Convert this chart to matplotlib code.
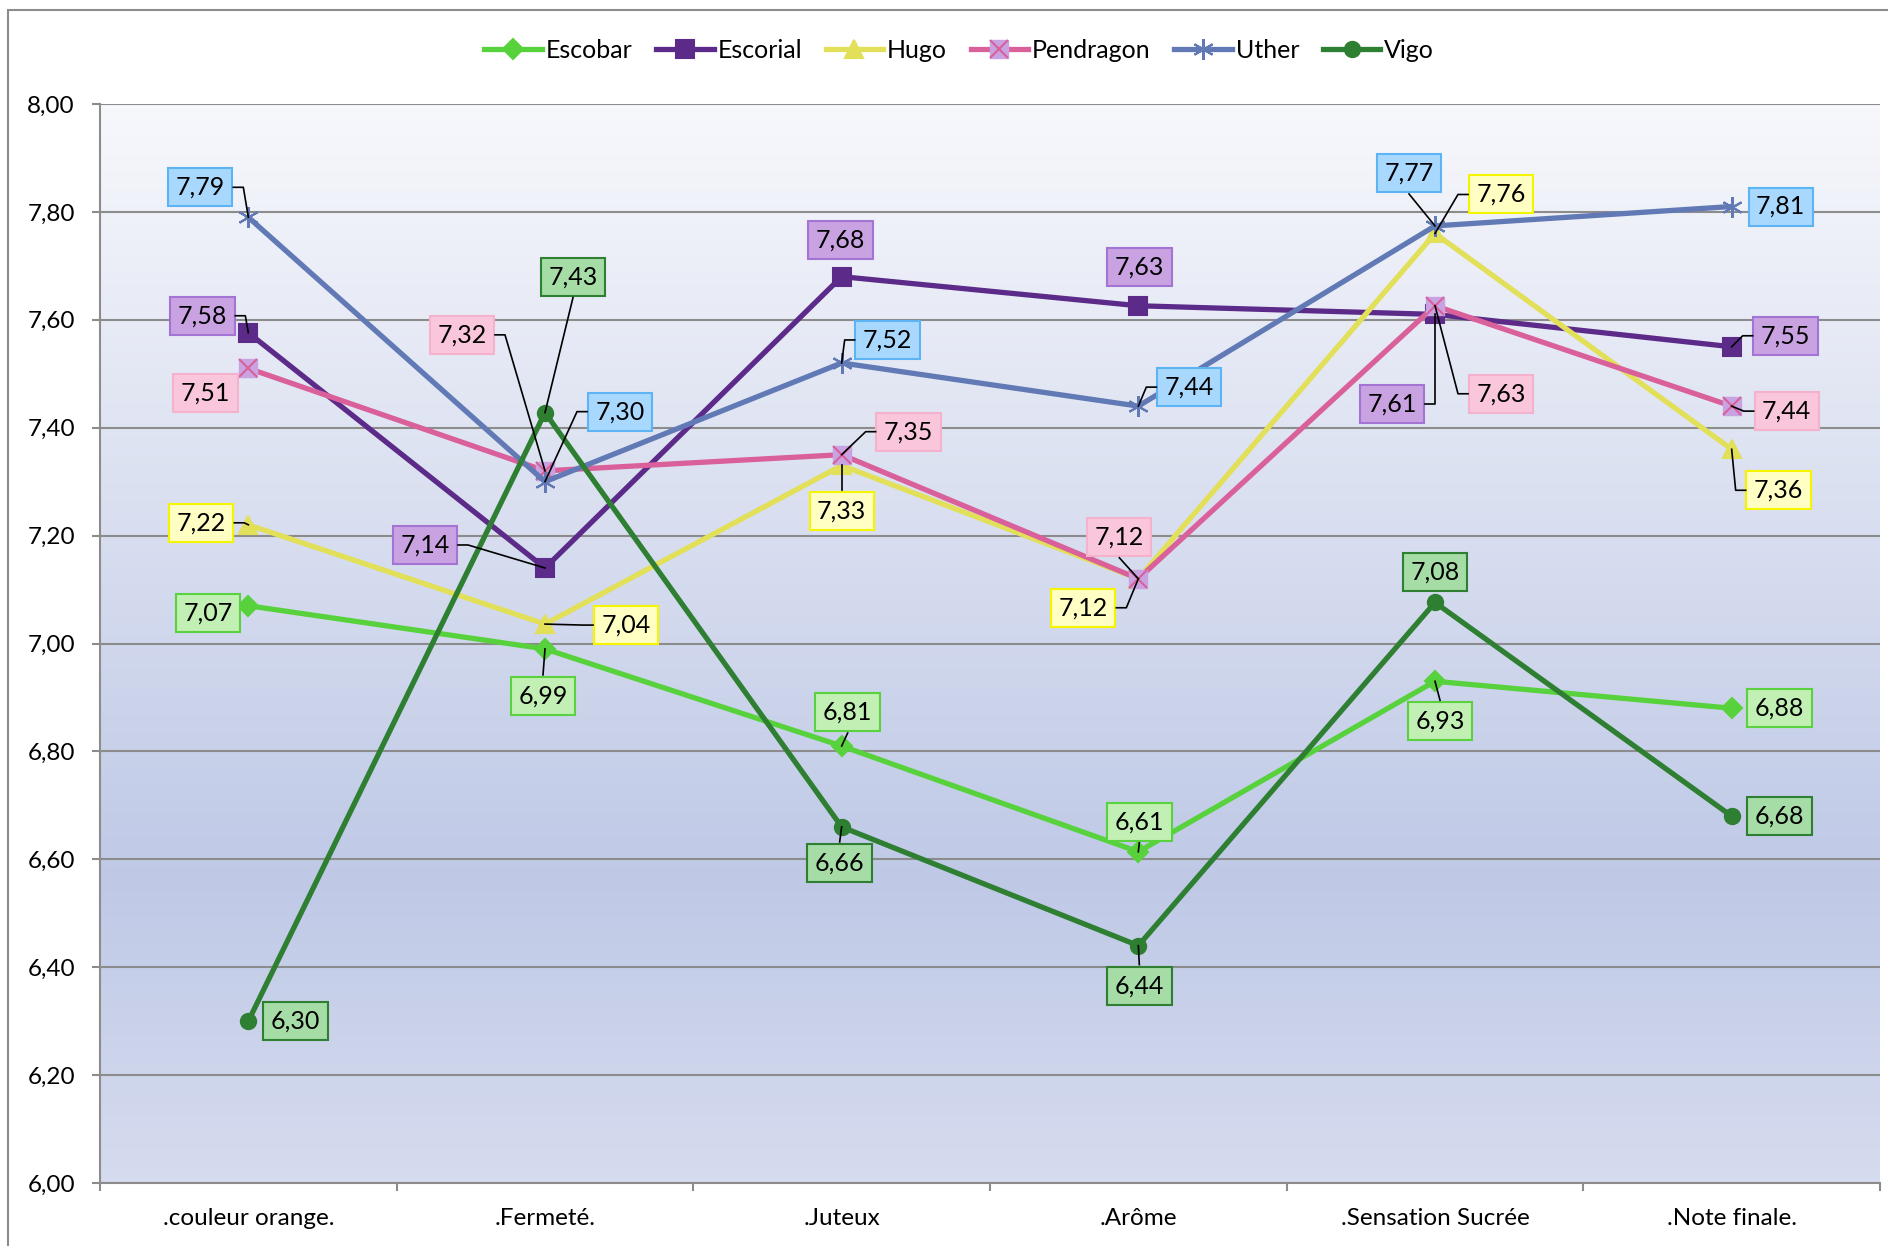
import numpy as np
import matplotlib
matplotlib.use('Agg')
import matplotlib.pyplot as plt
from matplotlib.colors import LinearSegmentedColormap
from matplotlib.lines import Line2D
from matplotlib.patches import Rectangle
from matplotlib.ticker import FixedLocator, FuncFormatter

plt.rcParams['font.family'] = ['Lato', 'DejaVu Sans']

# data
categories = ['.couleur orange.', '.Fermeté.', '.Juteux', '.Arôme',
              '.Sensation Sucrée', '.Note finale.']
series_names = ['Escobar', 'Escorial', 'Hugo', 'Pendragon', 'Uther', 'Vigo']
escobar = [7.07, 6.99, 6.81, 6.614, 6.93, 6.88]
escorial = [7.576, 7.14, 7.68, 7.626, 7.61, 7.55]
hugo = [7.22, 7.036, 7.33, 7.12, 7.76, 7.36]
pendragon = [7.51, 7.32, 7.35, 7.12, 7.626, 7.44]
uther = [7.79, 7.30, 7.52, 7.44, 7.774, 7.81]
vigo = [6.30, 7.428, 6.66, 6.44, 7.076, 6.68]
values = [escobar, escorial, hugo, pendragon, uther, vigo]

# styles
line_colors = ['#58d23c', '#5c2a88', '#e2df58', '#d9609a', '#6179b5', '#2f7f33']
box_faces = ['#c2f0b4', '#c9a2e2', '#ffffc4', '#f9c6dc', '#a9d8fe', '#a6dca6']
box_edges = ['#5ad240', '#a374d4', '#f5f500', '#f5b2cd', '#5cb4f5', '#2f7f33']
markers = ['D', 's', '^', 's', (6, 2, 0), 'o']
marker_sizes = [10, 13, 13, 13, 15, 11]

# label offsets in pixels (dx, dy, draw leader)
label_offsets = [
    [(-40, -7, 0), (-2, -47, 1), (6, 34, 1), (1, 30, 1), (5, -40, 1), (48, 0, 0)],
    [(-46, 17, 1), (-120, 23, 1), (-1, 37, 0), (1, 39, 0), (-43, -90, 1), (54, 11, 1)],
    [(-47, 2, 1), (81, -1, 1), (0, -46, 1), (-55, -29, 1), (66, 39, 1), (47, -41, 1)],
    [(-43, -25, 0), (-83, 136, 1), (67, 23, 1), (-19, 42, 1), (66, -88, 1), (55, -5, 1)],
    [(-48, 30, 1), (75, 70, 1), (46, 23, 1), (51, 19, 1), (-26, 53, 1), (49, 0, 0)],
    [(47, 0, 0), (28, 136, 1), (-2, -36, 1), (1, -40, 1), (0, 30, 0), (48, 0, 0)],
]

W, H = 1888, 1246
fig = plt.figure(figsize=(W / 100, H / 100), dpi=100)
fig.patches.append(Rectangle((8 / W, -0.1), 1.2, 1.1 - 10 / H,
                             transform=fig.transFigure, fill=False,
                             edgecolor='#8c8c8c', linewidth=1.5))

ax = fig.add_axes([100 / W, 1 - 1183 / H, 1780 / W, (1183 - 104) / H])
x = np.arange(len(categories))
ax.set_xlim(-0.5, len(categories) - 0.5)
ax.set_ylim(6, 8)

# plot area gradient
cmap = LinearSegmentedColormap.from_list(
    'bg', [(0, '#f7f8fc'), (0.72, '#bfc9e6'), (1, '#d6dcef')])
grad = np.linspace(0, 1, 256).reshape(-1, 1)
ax.imshow(grad, cmap=cmap, extent=(-0.5, len(categories) - 0.5, 6, 8),
          aspect='auto', origin='upper', zorder=0)

ax.set_yticks(np.arange(6, 8.01, 0.2))
ax.yaxis.set_major_formatter(FuncFormatter(lambda v, p: f'{v:.2f}'.replace('.', ',')))
ax.grid(axis='y', color='#8c8c8c', linewidth=1.5, zorder=1)
ax.set_axisbelow(True)
ax.set_xticks(x)
ax.set_xticklabels(categories)
ax.xaxis.set_minor_locator(FixedLocator(np.arange(-0.5, len(categories), 1.0)))
ax.tick_params(axis='x', which='major', length=0, pad=18, labelsize=17.5)
ax.tick_params(axis='x', which='minor', length=6, width=1.5, color='#8c8c8c')
ax.tick_params(axis='y', length=6, width=1.5, color='#8c8c8c', pad=12, labelsize=17.5)
for s in ['top', 'right']:
    ax.spines[s].set_visible(False)
for s in ['left', 'bottom']:
    ax.spines[s].set_color('#8c8c8c')
    ax.spines[s].set_linewidth(1.5)

handles = []
for k, name in enumerate(series_names):
    if name == 'Pendragon':
        ax.plot(x, values[k], color=line_colors[k], lw=3.8, marker='s',
                ms=marker_sizes[k], mfc='#c9a2e2', mec='#c9a2e2', zorder=3 + k)
        ax.plot(x, values[k], ls='none', marker='x', ms=marker_sizes[k],
                mec=line_colors[k], mew=1.5, zorder=3 + k)
        h = (Line2D([], [], color=line_colors[k], lw=3.8, marker='s', ms=marker_sizes[k],
                    mfc='#c9a2e2', mec='#c9a2e2'),
             Line2D([], [], ls='none', marker='x', ms=marker_sizes[k],
                    mec=line_colors[k], mew=1.5))
    else:
        h, = ax.plot(x, values[k], color=line_colors[k], lw=3.8, marker=markers[k],
                     ms=marker_sizes[k], mfc=line_colors[k], mec=line_colors[k],
                     mew=1.5, zorder=3 + k)
    handles.append(h)

fig.legend(handles, series_names, loc='center', bbox_to_anchor=(0.508, 1 - 50 / H),
           ncol=6, frameon=False, fontsize=18, handlelength=2.3,
           handletextpad=0.15, columnspacing=0.95)

# data labels with leader lines
to_fig = fig.transFigure.inverted()
hw, hh = 33, 21
for k in range(len(series_names)):
    for i, v in enumerate(values[k]):
        dx, dy, leader = label_offsets[k][i]
        px, py = ax.transData.transform((i, v))
        cx, cy = px + dx, py + dy
        ax.annotate(f'{v:.2f}'.replace('.', ','), xy=(i, v), xytext=(dx, dy),
                    textcoords='offset pixels', ha='center', va='center',
                    fontsize=18, zorder=20,
                    bbox=dict(boxstyle='square,pad=0.3', fc=box_faces[k],
                              ec=box_edges[k], lw=1.5))
        if not leader:
            continue
        if abs(dx) > hw + 2:
            sx = cx - np.sign(dx) * hw
            pts = [(sx, cy), (sx - np.sign(dx) * 10, cy), (px, py)]
        else:
            pts = [(cx, cy - np.sign(dy) * hh), (px, py)]
        pts = to_fig.transform(pts)
        fig.add_artist(Line2D(pts[:, 0], pts[:, 1], color='black', lw=1.2,
                              transform=fig.transFigure, zorder=15))

fig.savefig('out.png', dpi=100)
